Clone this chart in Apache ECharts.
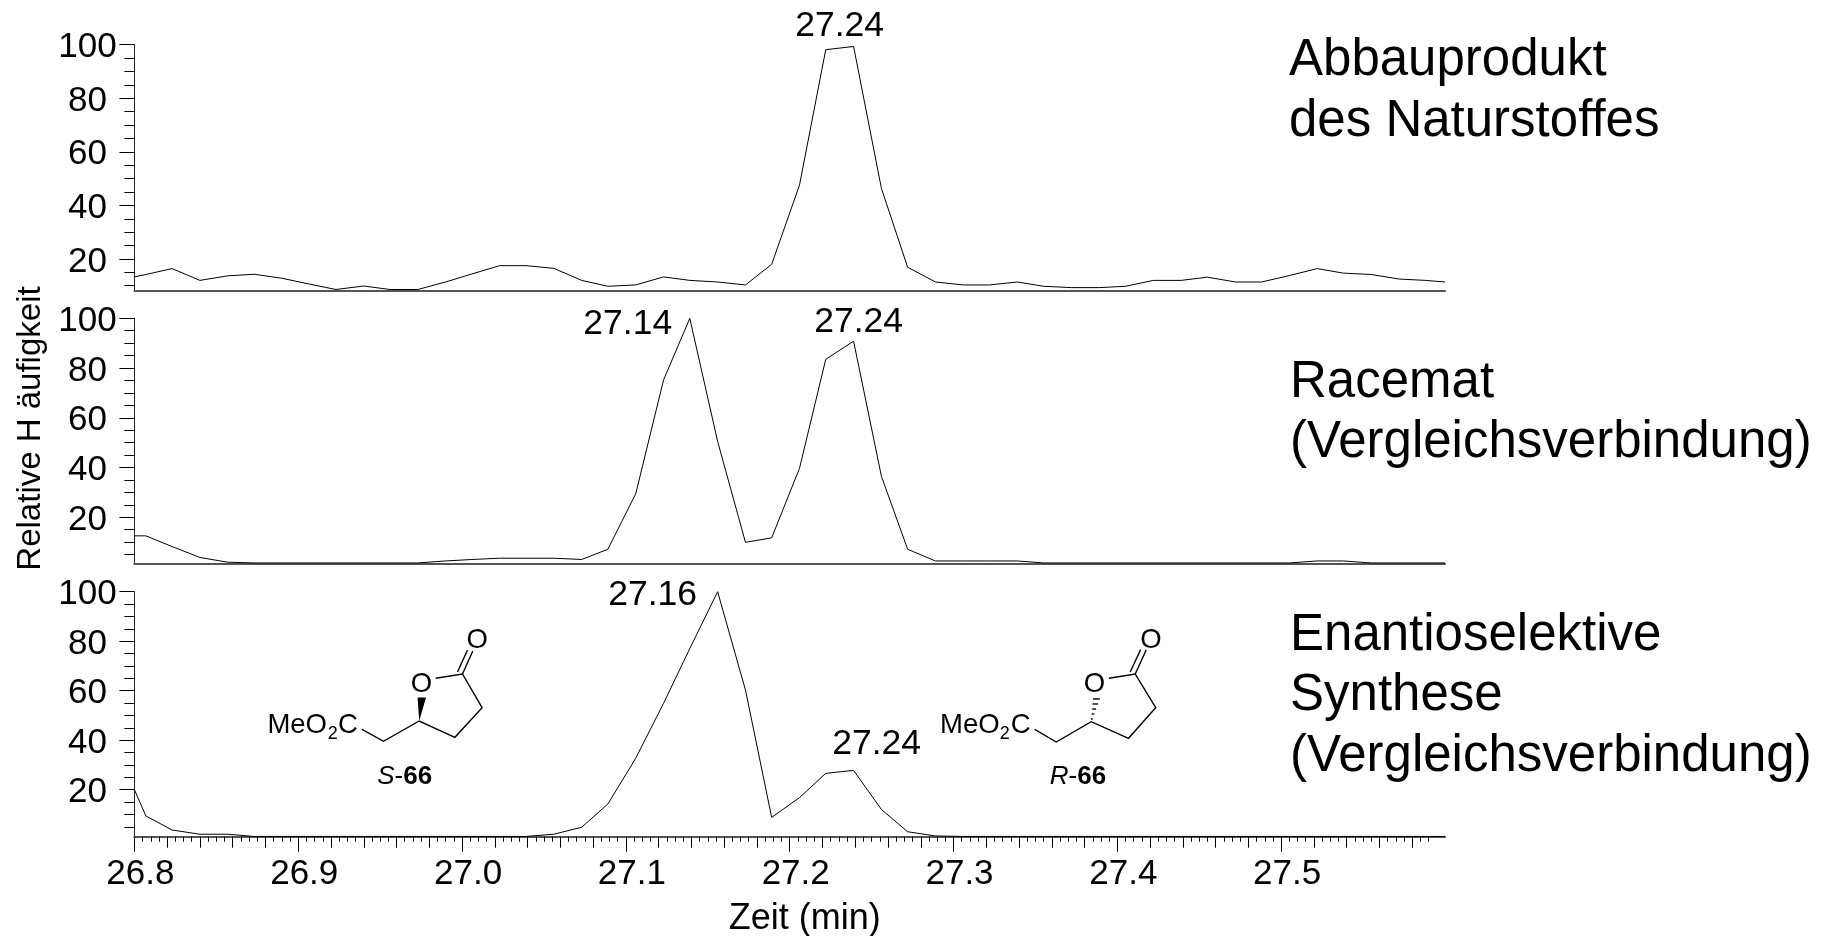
<!DOCTYPE html>
<html><head><meta charset="utf-8">
<style>html,body{margin:0;padding:0;background:#fff}#c{width:1831px;height:936px}</style>
<script src="https://cdn.jsdelivr.net/npm/echarts@6/dist/echarts.min.js"></script>
</head><body><div id="c"></div>
<script>
const times = [26.8,26.807,26.823,26.84,26.857,26.873,26.89,26.907,26.923,26.94,26.956,26.973,26.99,27.006,27.023,27.039,27.056,27.073,27.089,27.106,27.123,27.139,27.156,27.173,27.189,27.206,27.222,27.239,27.256,27.272,27.289,27.306,27.322,27.339,27.355,27.372,27.389,27.405,27.422,27.439,27.455,27.472,27.488,27.505,27.522,27.538,27.555,27.572,27.588,27.6];
const naturstoff = [13.3,14.2,16.4,12,13.7,14.3,12.8,10.6,8.6,9.9,8.6,8.6,11.4,14.4,17.5,17.5,16.5,12,9.8,10.3,13.3,12,11.4,10.3,18,47.6,98.1,99.3,46.3,16.9,11.4,10.3,10.3,11.4,9.8,9.3,9.3,9.8,12,12,13.2,11.4,11.4,13.8,16.4,14.7,14.2,12.5,12,11.4];
const racemat = [12.5,12.5,8.2,3.8,1.9,1.6,1.6,1.6,1.6,1.6,1.6,1.6,2.4,3,3.5,3.5,3.5,3,7.1,29.4,75.2,100,50.5,9.9,11.7,39.7,83.5,90.8,36.4,7.1,2.4,2.4,2.4,2.4,1.6,1.6,1.6,1.6,1.6,1.6,1.6,1.6,1.6,1.6,2.4,2.4,1.6,1.6,1.6,1.6];
const synthese = [20,9.4,3.7,2,2,1.1,1.1,1.1,1.1,1.1,1.1,1.1,1.1,1.1,1.1,1.1,2,4.8,14.2,32.7,54.9,77,100,60.3,8.8,16.8,26.6,27.8,12,3,1.3,1.1,1.1,1.1,1.1,1.1,1.1,1.1,1.1,1.1,1.1,1.1,1.1,1.1,1.1,1.1,1.1,1.1,1.1,1.1];
const yMajor = [20,40,60,80,100];
const yMinor = [5,10,15,25,30,35,45,50,55,65,70,75,85,90,95];
const xMajor = [26.8,26.9,27.0,27.1,27.2,27.3,27.4,27.5];
const xMedium = [26.82,26.84,26.86,26.88,26.92,26.94,26.96,26.98,27.02,27.04,27.06,27.08,27.12,27.14,27.16,27.18,27.22,27.24,27.26,27.28,27.32,27.34,27.36,27.38,27.42,27.44,27.46,27.48,27.52,27.54,27.56,27.58];
const xSmall = []; for (let k = 5360; k <= 5518; k++) { if (k % 4 !== 0) xSmall.push(k / 200); }
const peaks1 = [{x:27.239,y:99.3,text:'27.24',offset:[-14,-20]}];
const peaks2 = [{x:27.139,y:100,text:'27.14',offset:[-62,6]},{x:27.239,y:90.8,text:'27.24',offset:[5,-19]}];
const peaks3 = [{x:27.156,y:100,text:'27.16',offset:[-65,4]},{x:27.239,y:27.8,text:'27.24',offset:[23,-26]}];

const FF = '"Liberation Sans", Arial, sans-serif';
const INK = '#000';
const grids = [
  {left:134.4,right:386,top:44.6,height:246.1,ymin:8.15,vals:naturstoff,peaks:peaks1},
  {left:134.4,right:386,top:318.3,height:245.4,ymin:1.3,vals:racemat,peaks:peaks2},
  {left:134.4,right:386,top:591.7,height:245,ymin:1,vals:synthese,peaks:peaks3}
];
const baseX = {type:'value',min:26.8,max:27.6,position:'bottom',splitLine:{show:false},
  axisLine:{show:true,onZero:false,lineStyle:{color:'#555',width:2}},axisTick:{show:false},axisLabel:{show:false}};
const xAxes = [
  {...baseX,gridIndex:0},
  {...baseX,gridIndex:1},
  {...baseX,gridIndex:2,
    name:'Zeit (min)',nameLocation:'middle',nameGap:64,
    nameTextStyle:{fontFamily:FF,fontSize:36,color:INK,padding:[0,0,0,30]},
    axisTick:{show:true,length:15,customValues:xMajor,lineStyle:{color:INK,width:1}},
    axisLabel:{show:true,customValues:xMajor,formatter:v=>v.toFixed(1),fontFamily:FF,fontSize:35,color:INK,margin:20,padding:[0,0,0,12]}},
  {...baseX,gridIndex:2,axisLine:{show:false},axisTick:{show:true,length:11,customValues:xMedium,lineStyle:{color:INK,width:1}}},
  {...baseX,gridIndex:2,axisLine:{show:false},axisTick:{show:true,length:5,customValues:xSmall,lineStyle:{color:INK,width:1}}}
];
const yAxes = [];
grids.forEach((g,i)=>{
  yAxes.push({type:'value',gridIndex:i,min:g.ymin,max:100,position:'left',splitLine:{show:false},
    axisLine:{show:true,onZero:false,lineStyle:{color:'#222',width:1}},
    axisTick:{show:true,length:15,customValues:yMajor,lineStyle:{color:INK,width:1}},
    axisLabel:{show:true,customValues:yMajor,align:'center',verticalAlign:'top',lineHeight:6,margin:47,fontFamily:FF,fontSize:35,color:INK}});
  yAxes.push({type:'value',gridIndex:i,min:g.ymin,max:100,position:'left',splitLine:{show:false},
    axisLine:{show:false},axisLabel:{show:false},
    axisTick:{show:true,length:10,customValues:yMinor.filter(v=>v>g.ymin),lineStyle:{color:INK,width:1}}});
});
const series = grids.map((g,i)=>({
  type:'line',xAxisIndex:i,yAxisIndex:i*2,showSymbol:false,symbol:'none',smooth:false,clip:false,
  lineStyle:{color:INK,width:1},silent:true,
  data:times.map((t,k)=>[t,g.vals[k]]),
  markPoint:{silent:true,symbol:'circle',symbolSize:0,animation:false,
    data:g.peaks.map(p=>({coord:[p.x,p.y],
      label:{show:true,position:'inside',formatter:p.text,offset:p.offset,fontFamily:FF,fontSize:35.5,color:INK}}))}
}));

function txt(x,base,text,size,extra){
  return {type:'text',silent:true,x:x,y:base-0.265*size,
    style:Object.assign({text:text,fontFamily:FF,fontSize:size,fill:INK,textAlign:'left',textVerticalAlign:'middle'},extra||{})};
}
function line(pts,w){return {type:'polyline',silent:true,shape:{points:pts},style:{stroke:INK,lineWidth:w||1.4,fill:null}};}
function seg(a,b,c,d,w){return line([[a,b],[c,d]],w);}
const g = [];
g.push({type:'text',silent:true,x:31,y:428.5,rotation:Math.PI/2,
  style:{text:'Relative H äufigkeit',fontFamily:FF,fontSize:33,fill:INK,textAlign:'center',textVerticalAlign:'middle'}});
[['Abbauprodukt',1289,74],['des Naturstoffes',1289,135],['Racemat',1290,396.7],['(Vergleichsverbindung)',1290,456.7],
 ['Enantioselektive',1290,649],['Synthese',1290,709],['(Vergleichsverbindung)',1290,770]].forEach(r=>g.push(txt(r[1],r[2],r[0],51)));
// S-66
g.push(txt(267.4,733,'MeO',27.5),txt(327.7,738.5,'2',18),txt(338,733,'C',27.5));
g.push(line([[362,729.3],[383.5,741.3],[419.2,721],[454.9,737.3],[482.1,707.7],[462.5,674],[435.7,678.3]]));
g.push(seg(462.5,674,472.8,651),seg(457.5,672,467.5,650));
g.push({type:'polygon',silent:true,shape:{points:[[419.2,721],[417.6,697.5],[426,697.5]]},style:{fill:INK}});
g.push(txt(421.4,691.3,'O',27.5,{textAlign:'center'}),txt(477.2,648,'O',27.5,{textAlign:'center'}));
g.push(txt(404.7,784,'{i|S}-{b|66}',26,{textAlign:'center',rich:{i:{fontStyle:'italic',fontFamily:FF,fontSize:26,fill:INK},b:{fontWeight:'bold',fontFamily:FF,fontSize:26,fill:INK}}}));
// R-66
g.push(txt(940,733,'MeO',27.5),txt(999.8,738.5,'2',18),txt(1010.8,733,'C',27.5));
g.push(line([[1034.7,729.3],[1056.2,742],[1091.2,721.7],[1128.5,738.3],[1155.7,707.7],[1135.2,674],[1108.9,678.3]]));
g.push(seg(1135.2,674,1146.2,650),seg(1130.2,672,1140.7,649.5));
[[719,.8],[714,1.3],[709,2],[704,2.7],[699,3.4]].forEach(d=>{const cx=1091.2+(721.7-d[0])*0.23;g.push(seg(cx-d[1],d[0],cx+d[1],d[0],1.4));});
g.push(txt(1094.5,692,'O',27.5,{textAlign:'center'}),txt(1151,648,'O',27.5,{textAlign:'center'}));
g.push(txt(1078,784,'{i|R}-{b|66}',26,{textAlign:'center',rich:{i:{fontStyle:'italic',fontFamily:FF,fontSize:26,fill:INK},b:{fontWeight:'bold',fontFamily:FF,fontSize:26,fill:INK}}}));

const chart = echarts.init(document.getElementById('c'),null,{renderer:'canvas'});
chart.setOption({animation:false,backgroundColor:'#fff',
  grid:grids.map(g=>({left:g.left,right:g.right,top:g.top,height:g.height,containLabel:false,outerBoundsMode:'none'})),
  xAxis:xAxes,yAxis:yAxes,series:series,graphic:{elements:g}});
</script></body></html>
